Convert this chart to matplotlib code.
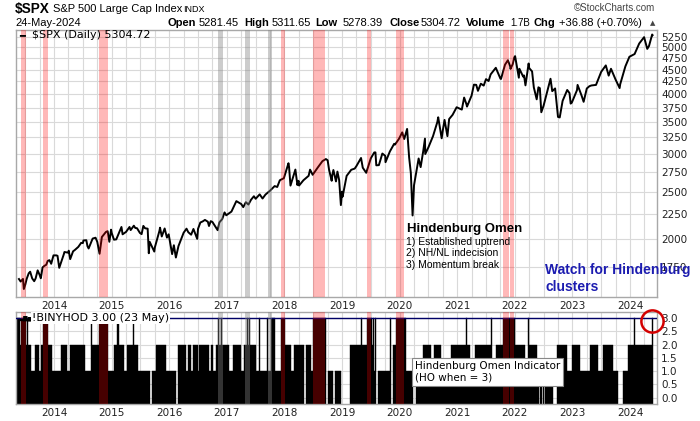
import numpy as np
import matplotlib

matplotlib.use("Agg")
import matplotlib.pyplot as plt

# S&P 500 closes (decimal year, index level), one row per year
price_t = [2013.39, 2013.42, 2013.46, 2013.475, 2013.50, 2013.525, 2013.56, 2013.585, 2013.62, 2013.655,
           2013.68, 2013.715, 2013.75, 2013.77, 2013.80, 2013.83, 2013.865, 2013.89, 2013.92, 2013.95, 2013.99,
           2014.04, 2014.06, 2014.09, 2014.17, 2014.18, 2014.245, 2014.255, 2014.28, 2014.33, 2014.36, 2014.42,
           2014.47, 2014.50, 2014.51, 2014.56, 2014.58, 2014.60, 2014.67, 2014.72, 2014.75, 2014.79, 2014.83,
           2014.90, 2014.93, 2014.96, 2014.99,
           2015.00, 2015.04, 2015.08, 2015.16, 2015.17, 2015.19, 2015.25, 2015.31, 2015.33, 2015.385, 2015.41,
           2015.44, 2015.49, 2015.52, 2015.55, 2015.58, 2015.625, 2015.645, 2015.66, 2015.74, 2015.75, 2015.83,
           2015.84, 2015.87, 2015.92, 2015.96, 2015.99,
           2016.05, 2016.08, 2016.115, 2016.16, 2016.25, 2016.30, 2016.33, 2016.38, 2016.42, 2016.485, 2016.50,
           2016.54, 2016.58, 2016.62, 2016.67, 2016.69, 2016.72, 2016.75, 2016.84, 2016.87, 2016.92, 2016.96,
           2016.99,
           2017.08, 2017.165, 2017.25, 2017.285, 2017.33, 2017.375, 2017.42, 2017.47, 2017.50, 2017.57, 2017.62,
           2017.67, 2017.75, 2017.83, 2017.875, 2017.92, 2017.99,
           2018.07, 2018.08, 2018.105, 2018.16, 2018.19, 2018.225, 2018.245, 2018.255, 2018.33, 2018.42, 2018.445,
           2018.49, 2018.58, 2018.66, 2018.72, 2018.75, 2018.775, 2018.82, 2018.83, 2018.85, 2018.895, 2018.92,
           2018.95, 2018.98,
           2019.00, 2019.01, 2019.08, 2019.16, 2019.22, 2019.25, 2019.33, 2019.36, 2019.42, 2019.50, 2019.56,
           2019.58, 2019.595, 2019.64, 2019.67, 2019.70, 2019.75, 2019.755, 2019.83, 2019.905, 2019.92, 2019.99,
           2020.045, 2020.08, 2020.13, 2020.165, 2020.195, 2020.225, 2020.25, 2020.33, 2020.365, 2020.41, 2020.44,
           2020.445, 2020.50, 2020.58, 2020.655, 2020.67, 2020.73, 2020.75, 2020.78, 2020.83, 2020.86, 2020.92,
           2020.99,
           2021.08, 2021.12, 2021.16, 2021.17, 2021.25, 2021.29, 2021.33, 2021.36, 2021.41, 2021.46, 2021.50,
           2021.545, 2021.58, 2021.66, 2021.67, 2021.75, 2021.76, 2021.83, 2021.88, 2021.92, 2021.925, 2021.965,
           2021.99,
           2022.005, 2022.07, 2022.08, 2022.145, 2022.16, 2022.185, 2022.24, 2022.25, 2022.30, 2022.33, 2022.38,
           2022.41, 2022.435, 2022.46, 2022.50, 2022.58, 2022.62, 2022.65, 2022.70, 2022.75, 2022.78, 2022.83,
           2022.91, 2022.95, 2022.97, 2022.99,
           2023.08, 2023.09, 2023.16, 2023.195, 2023.25, 2023.295, 2023.33, 2023.41, 2023.50, 2023.58, 2023.63,
           2023.67, 2023.75, 2023.82, 2023.83, 2023.92, 2023.99,
           2024.08, 2024.16, 2024.245, 2024.30, 2024.33, 2024.385, 2024.392]
price_v = [1650, 1630, 1651, 1573, 1606, 1652, 1696, 1709, 1655, 1633,
           1655, 1720, 1682, 1656, 1744, 1757, 1767, 1800, 1806, 1775, 1848,
           1848, 1844, 1741, 1859, 1878, 1872, 1890, 1815, 1884, 1896, 1924,
           1962, 1960, 1985, 1987, 1931, 1910, 2003, 2011, 1972, 1862, 2018,
           2067, 2075, 1972, 2090,
           2059, 1992, 1995, 2105, 2117, 2044, 2068, 2117, 2086, 2130, 2107,
           2105, 2058, 2046, 2128, 2104, 2100, 1867, 1972, 1882, 1920, 2079,
           2110, 2023, 2102, 2012, 2044,
           1859, 1940, 1829, 1932, 2060, 2100, 2065, 2040, 2097, 2000, 2099,
           2163, 2174, 2190, 2171, 2127, 2177, 2168, 2085, 2164, 2199, 2270,
           2239,
           2279, 2396, 2363, 2328, 2384, 2357, 2412, 2453, 2423, 2475, 2426,
           2472, 2519, 2575, 2564, 2648, 2674,
           2873, 2824, 2581, 2714, 2787, 2588, 2641, 2582, 2648, 2705, 2786,
           2718, 2816, 2902, 2931, 2914, 2785, 2641, 2711, 2781, 2633, 2760,
           2650, 2351,
           2507, 2448, 2704, 2784, 2800, 2834, 2946, 2812, 2744, 2942, 3025,
           3026, 2844, 2847, 2926, 3009, 2977, 2887, 3038, 3153, 3141, 3231,
           3330, 3226, 3386, 2954, 2741, 2237, 2585, 2939, 2820, 3044, 3232,
           3002, 3100, 3271, 3500, 3580, 3237, 3363, 3535, 3270, 3550, 3622,
           3756,
           3714, 3934, 3811, 3768, 3973, 4185, 4181, 4063, 4204, 4166, 4298,
           4258, 4395, 4523, 4537, 4308, 4300, 4605, 4704, 4567, 4513, 4620,
           4766,
           4797, 4327, 4516, 4349, 4374, 4171, 4632, 4530, 4459, 4132, 3901,
           4132, 4115, 3667, 3785, 4130, 4305, 4057, 4110, 3586, 3577, 3872,
           4080, 4019, 3822, 3840,
           4077, 4180, 3970, 3855, 4109, 4154, 4169, 4180, 4450, 4589, 4370,
           4516, 4288, 4117, 4194, 4568, 4783,
           4846, 5096, 5254, 4967, 5036, 5321, 5305]

# Hindenburg Omen indicator (!BINYHOD): level from each start until the next start
ho_start = [2013.339, 2013.404, 2013.431, 2013.518, 2013.530, 2013.553, 2013.605, 2013.664, 2013.739, 2013.769,
            2013.814, 2013.896, 2013.970, 2014.117, 2014.231, 2014.273, 2014.539, 2014.638, 2014.666, 2014.783,
            2014.944, 2015.043, 2015.101, 2015.130, 2015.217, 2015.275, 2015.374, 2015.391, 2015.449, 2015.664,
            2015.692, 2015.769, 2015.943, 2016.117, 2016.157, 2016.290, 2016.318, 2016.377, 2016.405, 2016.492,
            2016.522, 2016.696, 2016.725, 2016.753, 2016.812, 2016.852, 2016.870, 2016.896, 2016.916, 2017.043,
            2017.101, 2017.247, 2017.292, 2017.356, 2017.374, 2017.383, 2017.403, 2017.508, 2017.565, 2017.583,
            2017.704, 2017.722, 2017.762, 2017.843, 2017.943, 2018.017, 2018.116, 2018.174, 2018.348, 2018.377,
            2018.464, 2018.492, 2018.725, 2018.753, 2018.840, 2018.870, 2018.986, 2019.130, 2019.334, 2019.348,
            2019.431, 2019.513, 2019.536, 2019.548, 2019.565, 2019.583, 2019.622, 2019.826, 2019.855, 2019.883,
            2019.943, 2020.116, 2020.231, 2020.290, 2020.405, 2020.551, 2020.591, 2020.725, 2020.899, 2021.148,
            2021.165, 2021.217, 2021.304, 2021.594, 2021.612, 2021.669, 2021.797, 2022.000, 2022.174, 2022.231,
            2022.249, 2022.377, 2022.417, 2022.435, 2022.464, 2022.481, 2022.504, 2022.521, 2022.661, 2022.730,
            2022.904, 2022.991, 2023.130, 2023.304, 2023.443, 2023.530, 2023.704, 2023.791, 2023.878, 2023.965,
            2024.069, 2024.087, 2024.374]
ho_level = [3, 2, 3, 2, 3, 2, 1, 2, 1, 2,
            3, 2, 1, 2, 1, 2, 1, 3, 2, 3,
            1, 2, 3, 2, 1, 2, 3, 2, 1, 0,
            1, 2, 1, 0, 2, 1, 2, 1, 2, 1,
            2, 1, 2, 1, 2, 3, 2, 3, 2, 1,
            2, 1, 2, 3, 2, 3, 2, 1, 3, 1,
            3, 1, 3, 1, 3, 2, 1, 2, 0, 2,
            1, 3, 0, 1, 0, 1, 0, 2, 3, 2,
            3, 2, 3, 1, 3, 0, 1, 3, 0, 2,
            3, 1, 0, 1, 2, 1, 2, 1, 2, 3,
            2, 1, 2, 3, 1, 2, 3, 2, 1, 3,
            2, 1, 0, 1, 0, 1, 0, 1, 0, 2,
            1, 2, 1, 2, 1, 2, 1, 0, 1, 2,
            3, 2, 3]
ho_last = 2024.40

# highlighted Hindenburg Omen clusters
red_bands = [(2013.431, 2013.518), (2013.814, 2013.896), (2014.783, 2014.944), (2017.943, 2018.017),
             (2018.492, 2018.708), (2019.431, 2019.508), (2019.943, 2020.075), (2021.797, 2021.901),
             (2021.925, 2021.988)]
gray_bands = [(2016.840, 2016.927), (2017.322, 2017.409), (2017.710, 2017.786)]

years = list(range(2014, 2025))
price_ticks = list(range(1750, 5251, 250))
ho_ticks = [0.0, 0.5, 1.0, 1.5, 2.0, 2.5, 3.0]

W, H = 700, 421
X0, X1 = 2013.339, 2024.469
GRID = "#d9d9d9"
SANS = ["Liberation Sans", "DejaVu Sans"]


def rect(x0, y0, x1, y1):
    return [x0 / W, 1 - y1 / H, (x1 - x0) / W, (y1 - y0) / H]


def ftext(x, y, s, **kw):
    kw.setdefault("va", "center")
    kw.setdefault("family", SANS)
    fig.text(x / W, 1 - y / H, s, **kw)


def style(ax):
    ax.set_xlim(X0, X1)
    ax.set_xticks(years)
    ax.set_xticklabels([str(y) for y in years])
    ax.set_xticks(np.arange(2013.5, 2024.5, 0.25), minor=True)
    ax.grid(True, which="both", axis="x", color=GRID, lw=0.8, zorder=0)
    ax.grid(True, which="major", axis="y", color=GRID, lw=0.8, zorder=0)
    ax.yaxis.tick_right()
    ax.tick_params(which="both", length=0, labelsize=7.5, pad=3, colors="#222222")
    for s in ax.spines.values():
        s.set_color("#a8a8a8")
        s.set_linewidth(1.0)
    ax.set_axisbelow(True)
    for a, b in red_bands:
        ax.axvspan(a, b, color="red", alpha=0.28, lw=0, zorder=4)
    for a, b in gray_bands:
        ax.axvspan(a, b, color="#808080", alpha=0.4, lw=0, zorder=4)


assert len(price_t) == len(price_v) and len(ho_start) == len(ho_level)

fig = plt.figure(figsize=(W / 100, H / 100), dpi=100)

# price panel
ax = fig.add_axes(rect(16, 30, 657, 297))
ax.plot(price_t, price_v, color="black", lw=1.4, zorder=3)
ax.set_yscale("log")
ax.set_ylim(1514, 5437)
ax.yaxis.set_minor_locator(matplotlib.ticker.NullLocator())
ax.set_yticks(price_ticks)
ax.set_yticklabels([str(v) for v in price_ticks])
style(ax)

# indicator panel
ax2 = fig.add_axes(rect(16, 312, 657, 404))
lo = -0.24
ho_end = ho_start[1:] + [ho_last]
for s, e, v in zip(ho_start, ho_end, ho_level):
    if v > 0:
        ax2.bar(s, v - lo, width=e - s, bottom=lo, align="edge", color="black",
                edgecolor="black", lw=0.3, zorder=2)
ax2.axhline(3.0, color="#000066", lw=1.0, zorder=3)
ax2.set_ylim(lo, 3.234)
ax2.set_yticks(ho_ticks)
ax2.set_yticklabels([f"{v:.1f}" for v in ho_ticks])
style(ax2)
ax2.plot([ho_start[-1] + 0.008], [2.9], marker="o", ms=16, mfc="none", mec="#d40000",
         mew=1.8, clip_on=False, zorder=6)

# header
ftext(15, 8.5, "$SPX", fontsize=9.8, weight="bold")
ftext(53, 8.5, "S&P 500 Large Cap Index", fontsize=8)
ftext(183, 9, "INDX", fontsize=6.5)
ftext(655, 8, "\u00a9StockCharts.com", fontsize=7, ha="right", color="#444444")
ftext(15, 23.5, "24-May-2024", fontsize=8)
for x, s, bold, size in [(167, "Open", True, 8), (199, "5281.45", False, 8), (244, "High", True, 8),
                         (272, "5311.65", False, 8), (315, "Low", True, 8), (343, "5278.39", False, 8),
                         (389, "Close", True, 8), (421, "5304.72", False, 8), (466, "Volume", True, 8),
                         (510, "1.7B", False, 7), (534, "Chg", True, 8), (559, "+36.88 (+0.70%)", False, 8)]:
    ftext(x, 23.5, s, fontsize=size, weight="bold" if bold else "normal")
ftext(650, 23, "\u25b2", fontsize=5, color="#444444", family=["DejaVu Sans"])

# panel legends
ftext(19, 35.5, "\u2501", fontsize=7, family=["DejaVu Sans"])
ftext(32, 35.5, "$SPX (Daily) 5304.72", fontsize=8, family=["DejaVu Sans"])
ftext(19, 318, "\u2583\u2587\u2586", fontsize=4, family=["DejaVu Sans"])
ftext(32, 318, "!BINYHOD 3.00 (23 May)", fontsize=8, family=["DejaVu Sans"],
      bbox=dict(boxstyle="square,pad=0.12", fc="white", ec="none"), zorder=7)

# annotations
ftext(407, 229, "Hindenburg Omen", fontsize=9.5, weight="bold")
ftext(406, 242, "1) Established uptrend", fontsize=7.5)
ftext(406, 253.5, "2) NH/NL indecision", fontsize=7.5)
ftext(406, 265, "3) Momentum break", fontsize=7.5)
ftext(545, 270, "Watch for Hindenburg", fontsize=10, weight="bold", color="#1c1cb0", zorder=8)
ftext(545, 287, "clusters", fontsize=10, weight="bold", color="#1c1cb0", zorder=8)
ftext(415, 372, "Hindenburg Omen Indicator\n(HO when = 3)", fontsize=7.5, linespacing=1.15,
      family=["DejaVu Sans"],
      bbox=dict(boxstyle="square,pad=0.3", fc="white", ec="#888888", lw=0.8), zorder=8)

fig.savefig("out.png", dpi=100)
